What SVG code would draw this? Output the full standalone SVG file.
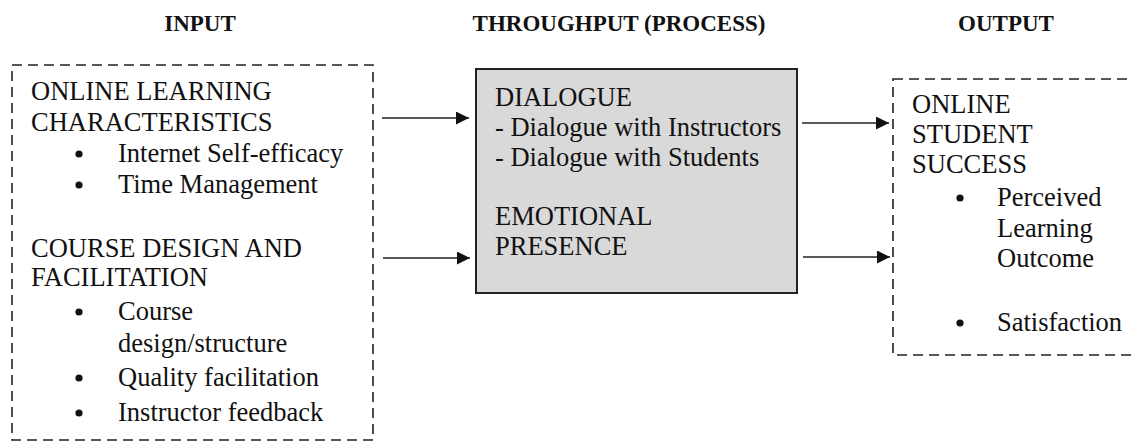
<svg xmlns="http://www.w3.org/2000/svg" width="1132" height="443" viewBox="0 0 1132 443">
  <style>
    .hdr { font-family: "Liberation Serif", "Times New Roman", serif; font-size: 23px; font-weight: bold; fill: #111; text-anchor: middle; }
    .txt { font-family: "Liberation Serif", "Times New Roman", serif; font-size: 26.5px; fill: #111; }
    .dash { fill: none; stroke: #222; stroke-width: 1.6; stroke-dasharray: 10 6; }
    .proc { fill: #d9d9d9; stroke: #222; stroke-width: 2; }
    .conn { stroke: #222; stroke-width: 1.5; fill: none; }
    .dot { fill: #111; }
  </style>
  <defs>
    <marker id="arrow" viewBox="0 0 10 10" refX="10" refY="5" markerWidth="13" markerHeight="13" markerUnits="userSpaceOnUse" orient="auto">
      <path d="M0,0 L10,5 L0,10 z" fill="#111"/>
    </marker>
  </defs>

  <rect width="1132" height="443" fill="#fff"/>

  <!-- column headings -->
  <g id="headings">
    <text class="hdr" x="200" y="31">INPUT</text>
    <text class="hdr" x="619" y="31">THROUGHPUT (PROCESS)</text>
    <text class="hdr" x="1006" y="31">OUTPUT</text>
  </g>

  <!-- input factors -->
  <g id="input">
    <rect class="dash" x="12" y="65" width="361" height="375"/>
    <text class="txt" x="31" y="100">ONLINE LEARNING</text>
    <text class="txt" x="31" y="131">CHARACTERISTICS</text>
    <circle class="dot" cx="79" cy="154" r="3.6"/>
    <text class="txt" x="118" y="162">Internet Self-efficacy</text>
    <circle class="dot" cx="79" cy="185" r="3.6"/>
    <text class="txt" x="118" y="193">Time Management</text>
    <text class="txt" x="31" y="257">COURSE DESIGN AND</text>
    <text class="txt" x="31" y="286">FACILITATION</text>
    <circle class="dot" cx="79" cy="312" r="3.6"/>
    <text class="txt" x="118" y="320">Course</text>
    <text class="txt" x="118" y="352">design/structure</text>
    <circle class="dot" cx="79" cy="378" r="3.6"/>
    <text class="txt" x="118" y="386">Quality facilitation</text>
    <circle class="dot" cx="79" cy="413" r="3.6"/>
    <text class="txt" x="118" y="421">Instructor feedback</text>
  </g>

  <!-- throughput / process -->
  <g id="process">
    <rect class="proc" x="476" y="69" width="321" height="224"/>
    <text class="txt" x="495" y="106">DIALOGUE</text>
    <text class="txt" x="495" y="136">- Dialogue with Instructors</text>
    <text class="txt" x="495" y="166">- Dialogue with Students</text>
    <text class="txt" x="495" y="225">EMOTIONAL</text>
    <text class="txt" x="495" y="255">PRESENCE</text>
  </g>

  <!-- output -->
  <g id="output">
    <rect class="dash" x="893" y="79" width="245" height="276"/>
    <text class="txt" x="912" y="113">ONLINE</text>
    <text class="txt" x="912" y="143">STUDENT</text>
    <text class="txt" x="912" y="173">SUCCESS</text>
    <circle class="dot" cx="960" cy="198" r="3.6"/>
    <text class="txt" x="997" y="206">Perceived</text>
    <text class="txt" x="997" y="237">Learning</text>
    <text class="txt" x="997" y="267">Outcome</text>
    <circle class="dot" cx="960" cy="323" r="3.6"/>
    <text class="txt" x="997" y="331">Satisfaction</text>
  </g>

  <!-- connectors -->
  <g id="connectors">
    <line class="conn" x1="382" y1="118" x2="469" y2="118" marker-end="url(#arrow)"/>
    <line class="conn" x1="383" y1="258" x2="470" y2="258" marker-end="url(#arrow)"/>
    <line class="conn" x1="802" y1="123" x2="889" y2="123" marker-end="url(#arrow)"/>
    <line class="conn" x1="803" y1="257" x2="890" y2="257" marker-end="url(#arrow)"/>
  </g>
</svg>
